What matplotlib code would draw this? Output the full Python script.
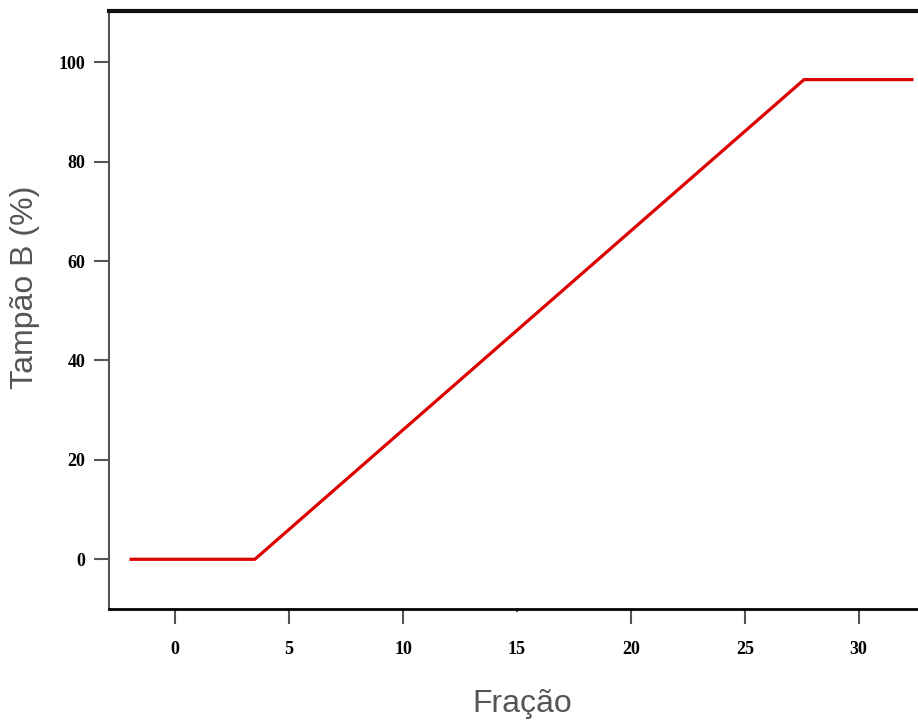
import matplotlib
matplotlib.use('Agg')
import matplotlib.pyplot as plt

# gradient program: % of buffer B per fraction
fracao = [-2.0, 3.5, 27.6, 32.4]
tampao_b = [0.0, 0.0, 96.5, 96.5]
xticks = [0, 5, 10, 15, 20, 25, 30]
yticks = [0, 20, 40, 60, 80, 100]

fig = plt.figure(figsize=(9.18, 7.22), dpi=100)
ax = fig.add_axes([109 / 918, 1 - 609 / 722, (918 - 109) / 918, (609 - 11) / 722])

ax.plot(fracao, tampao_b, color='#dd0000', lw=2.3, solid_capstyle='butt')

ax.set_xlim(-2.9, 32.6)
ax.set_ylim(-10, 110.3)
ax.set_xticks(xticks)
ax.set_yticks(yticks)

tick_font = dict(family='Liberation Serif', weight='bold', size=13)
ax.set_xticklabels([str(t) for t in xticks], **tick_font)
ax.set_yticklabels([str(t) for t in yticks], **tick_font)
ax.tick_params(axis='x', length=11, width=1.5, color='#555555', pad=12)
ax.tick_params(axis='y', length=11, width=1.5, color='#555555', pad=6)
# the tick at 15 is only a stub
ax.xaxis.get_major_ticks()[3].tick1line.set_markersize(2)

ax.spines['right'].set_visible(False)
ax.spines['top'].set_linewidth(3)
ax.spines['top'].set_color('#111111')
ax.spines['bottom'].set_linewidth(2)
ax.spines['bottom'].set_color('black')
ax.spines['left'].set_linewidth(1.5)
ax.spines['left'].set_color('#555555')

label_font = dict(family='Liberation Sans', size=23, color='#555555')
fig.text(522 / 918, 1 - 704 / 722, 'Fração', ha='center', va='center', **label_font)
fig.text(25 / 918, 1 - 287 / 722, 'Tampão B (%)', ha='center', va='center',
         rotation=90, **label_font)

fig.savefig('out.png', dpi=100)
